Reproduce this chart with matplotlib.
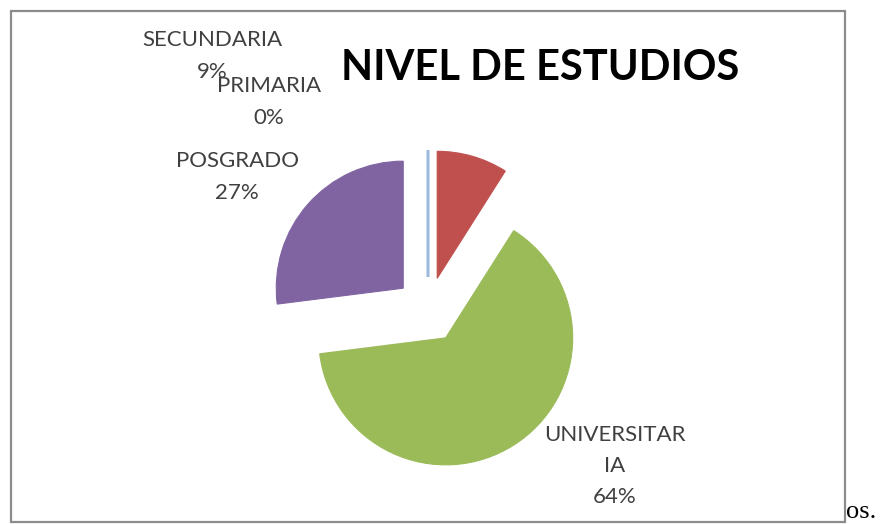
import matplotlib
matplotlib.use('Agg')
import matplotlib.pyplot as plt
from matplotlib.patches import Rectangle

# Datos del grafico (nivel de estudios, %)
categorias = ['PRIMARIA', 'SECUNDARIA', 'UNIVERSITARIA', 'POSGRADO']
etiquetas = ['PRIMARIA', 'SECUNDARIA', 'UNIVERSITAR\nIA', 'POSGRADO']
valores = [0, 9, 64, 27]
colores = ['#4F81BD', '#C0504D', '#9BBB59', '#8064A2']

W, H = 881, 524
fig = plt.figure(figsize=(W / 100, H / 100), dpi=100)
ax = fig.add_axes([0, 0, 1, 1])

# centro y radio en pixeles (y hacia arriba); explode en pixeles
cx, cy, r = 428, H - 310, 127
wedges, _ = ax.pie(valores, colors=colores, startangle=90, counterclock=False,
                   explode=[33] * len(valores), center=(cx, cy), radius=r,
                   wedgeprops=dict(linewidth=0.8, edgecolor='none'))
for w, c in zip(wedges, colores):
    w.set_edgecolor(c)
# la porcion de 0% solo se ve como una linea
wedges[0].set_edgecolor('#9DB9DD')
wedges[0].set_linewidth(2.2)

ax.set_xlim(0, W)
ax.set_ylim(0, H)
ax.set_aspect('auto')
ax.axis('off')

# etiquetas de datos (posicion del centro del bloque, y desde arriba)
pos_etiquetas = [(269, 102), (212, 56), (615, 466), (237, 177)]
for et, v, (x, y) in zip(etiquetas, valores, pos_etiquetas):
    ax.text(x, H - y, f'{et}\n{v}%', ha='center', va='center', fontsize=16,
            family='Lato', color='#404040', linespacing=1.7)

ax.text(540, H - 68, 'NIVEL DE ESTUDIOS', ha='center', va='center',
        fontsize=30, family='Lato', fontweight='bold', color='black')

# borde del area del grafico
ax.add_patch(Rectangle((11, H - 522), 845 - 11, 522 - 11, fill=False,
                       edgecolor='#8C8C8C', linewidth=1.6, clip_on=False))

ax.text(846, H - 518, 'os.', ha='left', va='baseline', fontsize=19,
        family='Liberation Serif', color='black')

fig.savefig('out.png', dpi=100)
